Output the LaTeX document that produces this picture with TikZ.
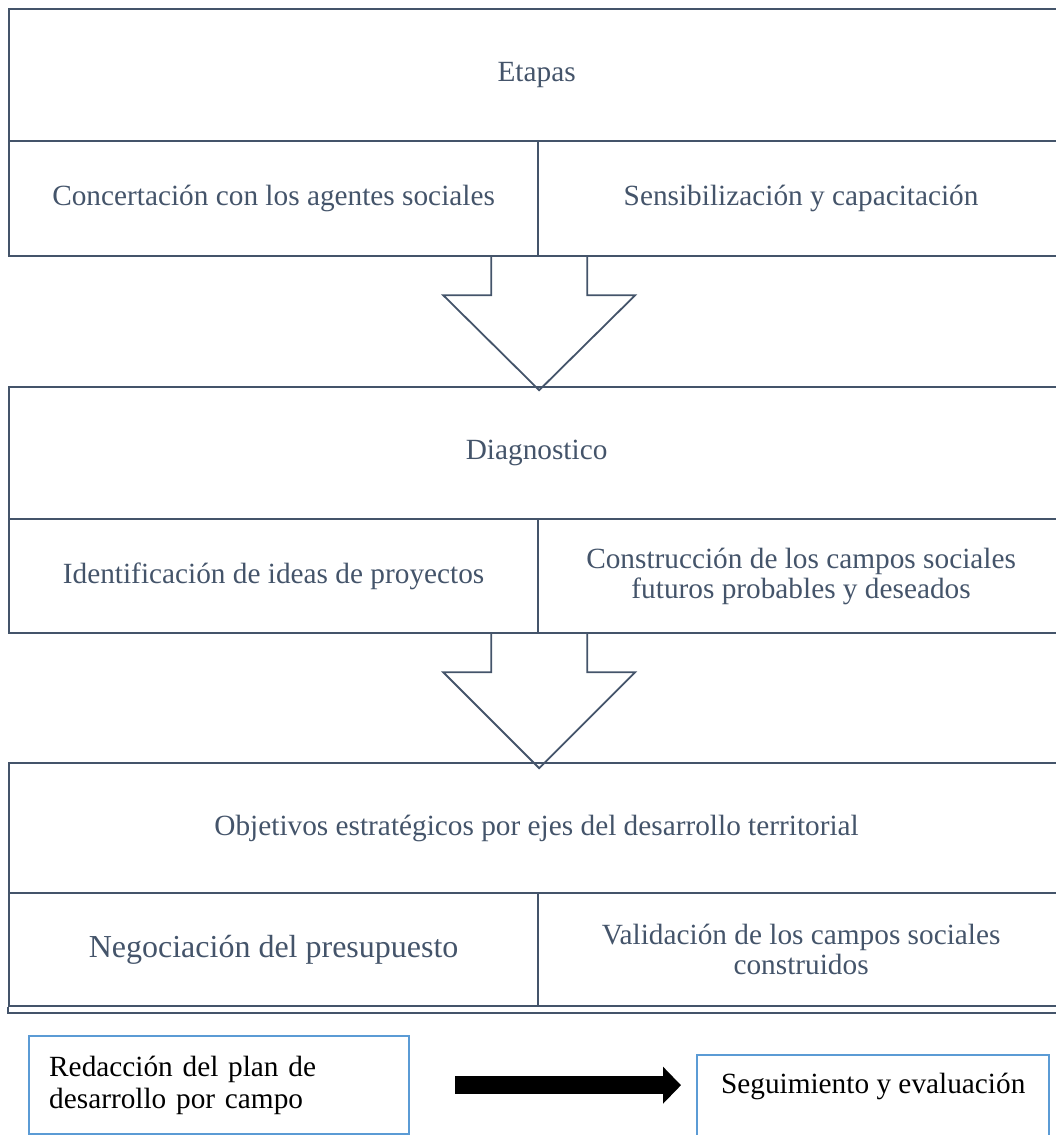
\documentclass[tikz,border=0pt]{standalone}
\usepackage{fontspec}
\setmainfont{Liberation Serif}
\usetikzlibrary{calc,arrows.meta}
\definecolor{slate}{HTML}{44546A}
\definecolor{boxblue}{HTML}{5B9BD5}
\begin{document}
\begin{tikzpicture}[x=0.5pt,y=-0.5pt,
  cell/.style={draw=slate, line width=1.1pt, rectangle, inner sep=0pt, anchor=north west,
    text=slate, font=\fontsize{14.65}{15}\selectfont, align=center},
  boxline/.style={draw=slate, line width=1.1pt},
  blockarrow/.style={draw=slate, line width=0.9pt, line join=miter},
  bluecell/.style={draw=boxblue, line width=1.2pt, rectangle, anchor=north west,
    text=black, font=\fontsize{14.65}{16}\selectfont},
  fatarrow/.style={line width=9pt, -{Triangle[length=9pt,width=18pt]}}
]
\useasboundingbox (0,0) rectangle (1055,1135);

% ---- Stage 1
\node[cell, minimum width=527.5pt, minimum height=66pt] (etapas) at (8,8) {Etapas};
\node[cell, minimum width=264.5pt, minimum height=57.5pt] (concert) at (8,140)
  {Concertación con los agentes sociales};
\node[cell, minimum width=263pt, minimum height=57.5pt] (sensib) at (537,140)
  {Sensibilización y capacitación};

% ---- Stage 2
\node[cell, minimum width=527.5pt, minimum height=66pt] (diag) at (8,386) {Diagnostico};
\node[cell, minimum width=264.5pt, minimum height=57pt] (ident) at (8,518)
  {Identificación de ideas de proyectos};
\node[cell, minimum width=263pt, minimum height=57pt] (constr) at (537,518)
  {Construcción de los campos sociales\\futuros probables y deseados};

% ---- Stage 3
\node[cell, minimum width=527.5pt, minimum height=65pt] (objet) at (8,762)
  {Objetivos estratégicos por ejes del desarrollo territorial};
\node[cell, minimum width=264.5pt, minimum height=56.5pt, font=\fontsize{16}{17}\selectfont] (negoc) at (8,892)
  {Negociación del presupuesto};
\node[cell, minimum width=263pt, minimum height=56.5pt] (valid) at (537,892)
  {Validación de los campos sociales\\construidos};
\draw[boxline] (negoc.south west) -- ++(0,6) -- ($(valid.south east)+(0,6)$);

% ---- block arrows
\draw[blockarrow] ($(concert.south east)+(-48,0)$) -- ++(0,38) -- ++(-48,0)
  -- ($(concert.south east)+(0,133)$) -- ++(96,-95) -- ++(-48,0) -- ++(0,-38);
\draw[blockarrow] ($(ident.south east)+(-48,0)$) -- ++(0,38) -- ++(-48,0)
  -- ($(ident.south east)+(0,134)$) -- ++(96,-96) -- ++(-48,0) -- ++(0,-38);

% ---- bottom boxes
\node[bluecell, minimum height=49pt, text width=170pt, inner xsep=10pt, inner ysep=0pt, align=left] (redac) at (28,1035)
  {Redacción del plan de\\desarrollo por campo};
\node[bluecell, minimum width=176pt, inner sep=0pt, text height=19pt, text depth=29pt, align=center] (seg) at (696,1054)
  {Seguimiento y evaluación};
\draw[fatarrow, shorten <=22.5pt, shorten >=7.5pt] (redac.east) -- (redac.east -| seg.west);
\end{tikzpicture}
\end{document}
